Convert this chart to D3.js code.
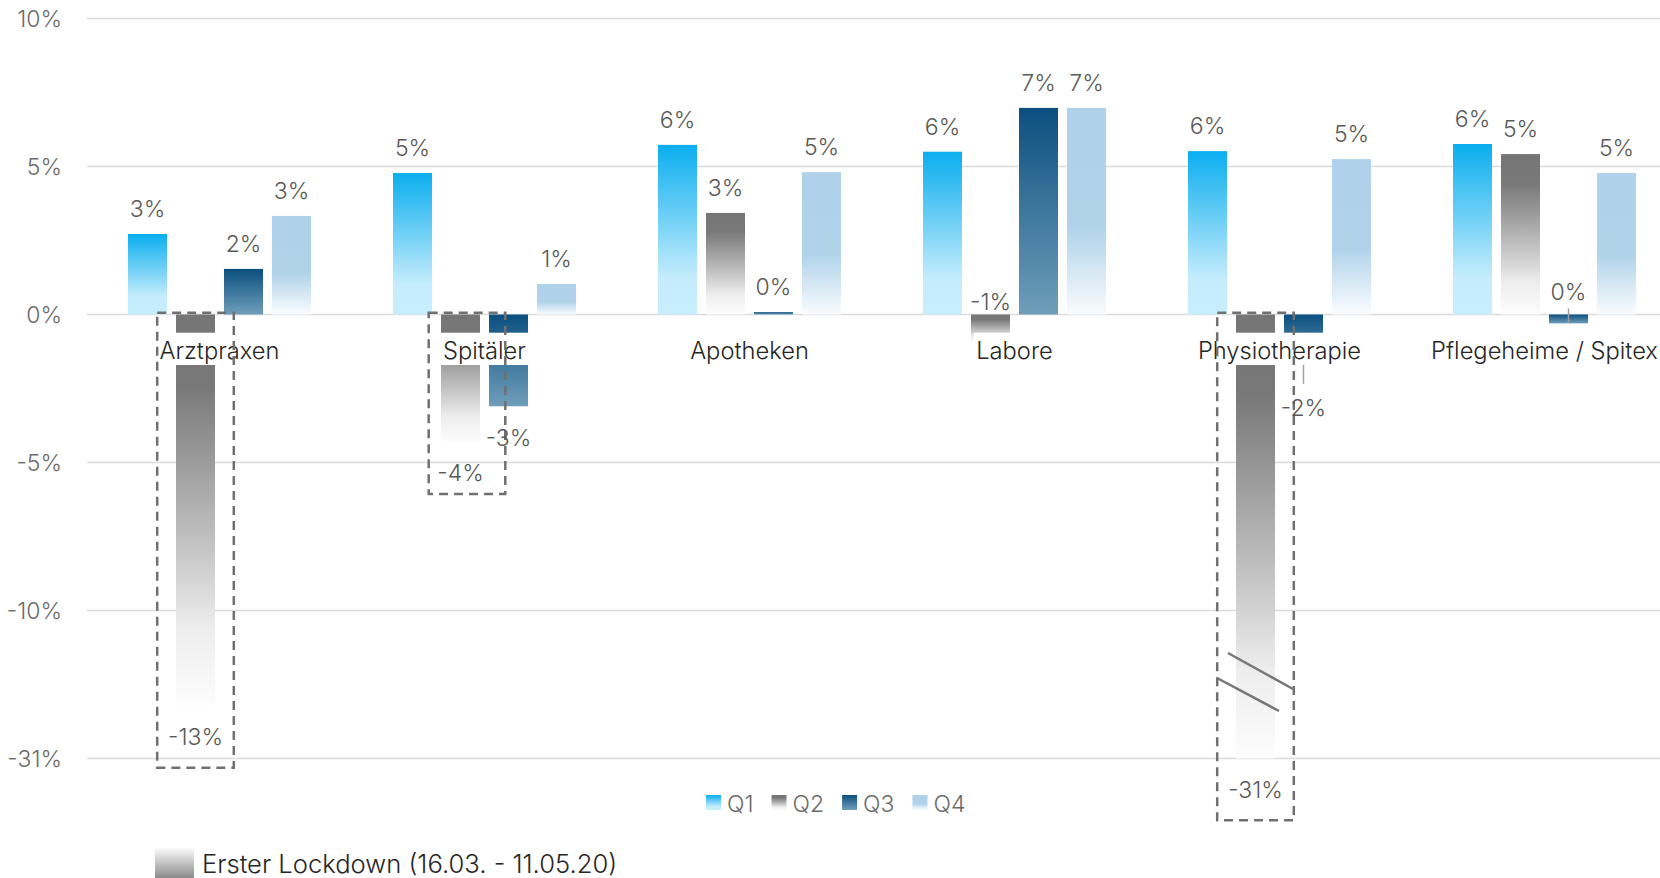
<!DOCTYPE html>
<html><head><meta charset="utf-8">
<script src="https://cdn.jsdelivr.net/npm/d3@7"></script>
<style>
html,body{margin:0;padding:0;background:#fff;overflow:hidden;}
svg{display:block;font-family:Inter,"Noto Sans",sans-serif;}
</style></head><body>
<svg id="chart" width="1660" height="878"></svg>
<script>
// ---------- data ----------
const categories = ["Arztpraxen","Spitäler","Apotheken","Labore","Physiotherapie","Pflegeheime / Spitex"];
const seriesNames = ["Q1","Q2","Q3","Q4"];
const q1Values = [2.72, 4.78, 5.73, 5.5, 5.52, 5.76];
const q2Values = [-13.2, -4.3, 3.43, -0.93, -31, 5.42];
const q3Values = [1.54, -3.1, 0.08, 6.98, -1.7, -0.3];
const q4Values = [3.33, 1.03, 4.81, 6.98, 5.25, 4.78];
const yTickValues = [10, 5, 0, -5, -10, -15];
const yTickLabels = ["10%","5%","0%","-5%","-10%","-31%"];
const lockdownCategories = ["Arztpraxen","Spitäler","Physiotherapie"];
const lockdownSeries = "Q2";
const lockdownLabel = "Erster Lockdown (16.03. - 11.05.20)";

const valuesBySeries = {Q1:q1Values, Q2:q2Values, Q3:q3Values, Q4:q4Values};

// ---------- layout ----------
const W = 1660, H = 878;
const svg = d3.select("#chart");
const defs = svg.append("defs");

const x0 = d3.scaleBand().domain(categories).range([87, 87 + 6*265]).padding(0);
const x1 = d3.scaleBand().domain(seriesNames).range([41, 224]).paddingInner(0.1875).paddingOuter(0);
const y = d3.scaleLinear().domain([-15, 10]).range([758.5, 18.5]).clamp(true);
const yRaw = y.copy().clamp(false);

// gradients
const gradStops = {
  Q1: [[0,"#0AAEEF"],[0.78,"#C4ECFC"],[1,"#C7EEFD"]],
  Q2: [[0,"#767676"],[0.18,"#787878"],[0.55,"#bcbcbc"],[0.8,"#ededed"],[1,"#fdfdfd"]],
  Q3: [[0,"#0B4F7F"],[1,"#6F9EBA"]],
  Q4: [[0,"#AFD2EA"],[0.58,"#B0D3EA"],[1,"#FAFCFE"]],
  LD: [[0,"#ffffff"],[1,"#6a6a6a"]]
};
Object.entries(gradStops).forEach(([k, stops]) => {
  const g = defs.append("linearGradient").attr("id","g"+k)
    .attr("x1",0).attr("y1",0).attr("x2",0).attr("y2",1);
  stops.forEach(([o,c]) => g.append("stop").attr("offset",o).attr("stop-color",c));
});

// gridlines + ticks
const grid = svg.append("g");
grid.selectAll("line").data(yTickValues).join("line")
  .attr("x1", 87).attr("x2", W)
  .attr("y1", d => y(d)).attr("y2", d => y(d))
  .attr("stroke", "#dcdcdc").attr("stroke-width", 1.6);
grid.selectAll("text").data(yTickValues).join("text")
  .attr("x", 62).attr("y", d => y(d) + 8.5)
  .attr("text-anchor","end")
  .attr("font-size", 23).attr("font-weight", 300).attr("fill", "#6b6b6b")
  .text((d,i) => yTickLabels[i]);

// bars
const fmt = v => (Math.round(v) || 0) + "%";
const barData = [];
categories.forEach((c, i) => seriesNames.forEach(s => {
  barData.push({cat:c, s, v:valuesBySeries[s][i]});
}));
const bx = d => x0(d.cat) + x1(d.s);
const bw = x1.bandwidth();

svg.append("g").selectAll("rect").data(barData).join("rect")
  .attr("x", bx).attr("width", bw)
  .attr("y", d => Math.min(y(0), y(d.v)))
  .attr("height", d => Math.abs(y(d.v) - y(0)))
  .attr("fill", d => `url(#g${d.s})`);

// category labels with white background
const catG = svg.append("g");
categories.forEach(c => {
  const cx = x0(c) + x0.bandwidth()/2;
  const g = catG.append("g");
  const r = g.append("rect").attr("fill","#fff");
  const t = g.append("text").attr("x", cx).attr("y", 359)
    .attr("text-anchor","middle").attr("font-size", 23.7).attr("font-weight", 300)
    .attr("fill","#262626").text(c);
  const tw = t.node().getComputedTextLength();
  r.attr("x", cx - tw/2 - 2.5).attr("width", tw + 5).attr("y", 332.7).attr("height", 32.3);
});

// lockdown dashed boxes
const boxSpec = {
  "Arztpraxen": {dx:0, bottom:-15.31},
  "Spitäler": {dx:6.5, bottom:-6.06},
  "Physiotherapie": {dx:0, bottom:-17.09}
};
const boxG = svg.append("g");
lockdownCategories.forEach(c => {
  const cx = x0(c) + x1(lockdownSeries) + bw/2 + boxSpec[c].dx;
  const top = yRaw(0.06), bot = yRaw(boxSpec[c].bottom);
  boxG.append("rect").attr("x", cx - 38.3).attr("width", 76.6)
    .attr("y", top).attr("height", bot - top)
    .attr("fill","none").attr("stroke","#707070").attr("stroke-width",2.5)
    .attr("stroke-dasharray","9,6");
});

// value labels
const labG = svg.append("g");
barData.forEach(d => {
  const cx = bx(d) + bw/2;
  let base;
  if (d.cat === "Labore" && d.s === "Q2") {
    base = y(0) - 4.5;
  } else if (d.cat === "Pflegeheime / Spitex" && d.s === "Q3") {
    base = y(0) - 14.5;
    labG.append("line").attr("x1",cx).attr("x2",cx).attr("y1", y(0) - 6).attr("y2", y(d.v))
      .attr("stroke","#a0a0a0").attr("stroke-width",1.5);
  } else if (d.cat === "Physiotherapie" && d.s === "Q3") {
    base = y(d.v) + 51;
    labG.append("line").attr("x1",cx).attr("x2",cx).attr("y1", y(d.v)).attr("y2", y(d.v) + 19)
      .attr("stroke","#a0a0a0").attr("stroke-width",1.5);
  } else if (d.v >= 0) {
    base = y(d.v) - 17;
  } else {
    base = y(d.v) + 39.5;
  }
  labG.append("text").attr("x", cx).attr("y", base).attr("text-anchor","middle")
    .attr("font-size", 23).attr("font-weight", 300).attr("fill","#595959")
    .text(fmt(d.v));
});

// axis break marks on the clamped bar
barData.filter(d => y(d.v) !== yRaw(d.v)).forEach(d => {
  const cx = bx(d) + bw/2, yb = y(d.v);
  [[-27.5,-105.5,37.5,-69.5],[-38.5,-80.5,23.5,-47.5]].forEach(([a,b,c2,e]) => {
    svg.append("line").attr("x1",cx+a).attr("y1",yb+b).attr("x2",cx+c2).attr("y2",yb+e)
      .attr("stroke","#777").attr("stroke-width",2.5);
  });
});

// legend (series)
const leg = svg.append("g");
let lx = 706;
seriesNames.forEach(s => {
  leg.append("rect").attr("x", lx).attr("y", 795).attr("width", 15).attr("height", 15)
    .attr("fill", `url(#g${s})`);
  const t = leg.append("text").attr("x", lx + 21).attr("y", 812.3)
    .attr("font-size", 23).attr("font-weight", 300).attr("fill","#6b6b6b").text(s);
  lx += 21 + t.node().getComputedTextLength() + 18;
});

// lockdown legend
svg.append("rect").attr("x", 155).attr("y", 847).attr("width", 39).attr("height", 40)
  .attr("fill","url(#gLD)");
svg.append("text").attr("x", 202).attr("y", 873).attr("font-size", 25.6).attr("font-weight", 300)
  .attr("fill","#262626").text(lockdownLabel);
</script>
</body></html>
